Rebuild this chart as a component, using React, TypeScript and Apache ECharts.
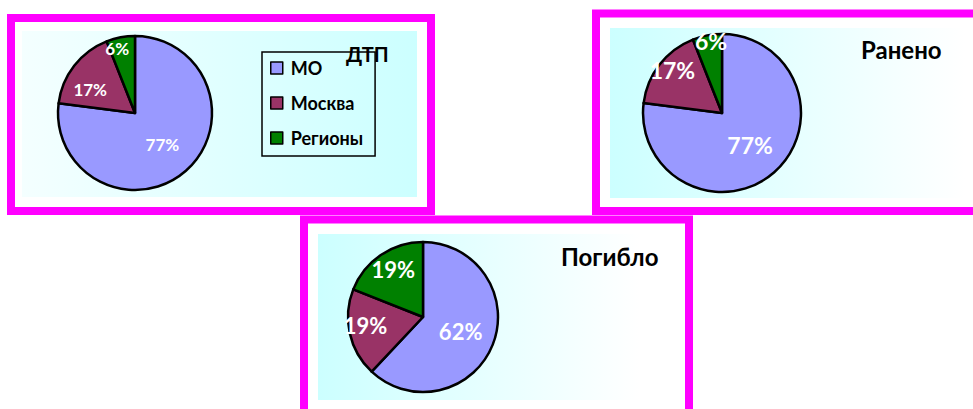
import React, { useEffect, useRef } from "react";
import * as echarts from "echarts";

const categories = ["МО", "Москва", "Регионы"];
const dtpValues = [77, 17, 6];
const injuredValues = [77, 17, 6];
const killedValues = [62, 19, 19];
const titles = ["ДТП", "Ранено", "Погибло"];
const sliceColors = ["#9999FF", "#993366", "#008000"];

const FONT = 'Lato, "Open Sans", "Noto Sans", sans-serif';
const MAGENTA = "#FF00FF";

// label nudges (Excel-style placement), per slice
const labelNudges = [
  [[0, 0], [-12, 2], [-10, -24]],
  [[0, 0], [-16, -17], [-3, -30]],
  [[0, 0], [-18, 0], [-7, -14]],
];

function makePie(
  name: string,
  values: number[],
  center: [number, number],
  radius: number,
  fontSize: number,
  nudges: number[][]
) {
  return {
    type: "pie",
    name,
    center,
    radius,
    startAngle: 90,
    clockwise: true,
    silent: true,
    data: values.map((v, i) => ({
      value: v,
      name: categories[i],
      itemStyle: { color: sliceColors[i] },
    })),
    itemStyle: { borderColor: "#000", borderWidth: 2.5 },
    label: {
      show: true,
      position: "inside",
      formatter: "{c}%",
      color: "#fff",
      fontWeight: "bold",
      fontSize,
      fontFamily: FONT,
    },
    labelLine: { show: false },
    labelLayout: (p: any) => ({
      dx: nudges[p.dataIndex][0],
      dy: nudges[p.dataIndex][1],
    }),
  };
}

export default function App() {
  const ref = useRef<HTMLDivElement>(null);

  useEffect(() => {
    if (!ref.current) return;
    const chart = echarts.init(ref.current, null, { renderer: "svg" });
    const option: any = {
      animation: false,
      backgroundColor: "#fff",
      graphic: [
        // panel backgrounds
        {
          type: "rect",
          z: -10,
          shape: { x: 22, y: 31, width: 395, height: 166 },
          style: {
            fill: {
              type: "linear", x: 0, y: 0, x2: 1, y2: 0,
              colorStops: [
                { offset: 0, color: "#F4FFFF" },
                { offset: 1, color: "#CCFFFF" },
              ],
            },
          },
        },
        {
          type: "rect",
          z: -10,
          shape: { x: 610, y: 28, width: 355, height: 170 },
          style: {
            fill: {
              type: "linear", x: 0, y: 0, x2: 1, y2: 0,
              colorStops: [
                { offset: 0, color: "#CCFFFF" },
                { offset: 1, color: "#FFFFFF" },
              ],
            },
          },
        },
        {
          type: "rect",
          z: -10,
          shape: { x: 318, y: 234, width: 322, height: 166 },
          style: {
            fill: {
              type: "linear", x: 0, y: 0, x2: 1, y2: 0,
              colorStops: [
                { offset: 0, color: "#CCFFFF" },
                { offset: 1, color: "#FFFFFF" },
              ],
            },
          },
        },
        // magenta frames
        {
          type: "rect",
          z: -5,
          shape: { x: 11, y: 18, width: 420, height: 193 },
          style: { fill: "none", stroke: MAGENTA, lineWidth: 8 },
        },
        {
          type: "rect",
          z: -5,
          shape: { x: 596, y: 13.5, width: 420, height: 197.5 },
          style: { fill: "none", stroke: MAGENTA, lineWidth: 8 },
        },
        {
          type: "rect",
          z: -5,
          shape: { x: 304, y: 219.5, width: 385, height: 300 },
          style: { fill: "none", stroke: MAGENTA, lineWidth: 8 },
        },
      ],
      title: [
        {
          text: titles[0],
          left: 346,
          top: 44,
          padding: 0,
          z: 10,
          textStyle: { fontFamily: FONT, fontWeight: "bold", fontSize: 20, color: "#000" },
        },
        {
          text: titles[1],
          left: 861,
          top: 37,
          padding: 0,
          textStyle: { fontFamily: FONT, fontWeight: "bold", fontSize: 24, color: "#000" },
        },
        {
          text: titles[2],
          left: 561,
          top: 244,
          padding: 0,
          textStyle: { fontFamily: FONT, fontWeight: "bold", fontSize: 24, color: "#000" },
        },
      ],
      legend: {
        orient: "vertical",
        left: 262,
        top: 52,
        data: categories,
        padding: [7, 12, 9, 8],
        itemWidth: 12,
        itemHeight: 12,
        itemGap: 17,
        borderColor: "#000",
        borderWidth: 1.5,
        borderRadius: 0,
        backgroundColor: "transparent",
        selectedMode: false,
        icon: "rect",
        itemStyle: { borderColor: "#000", borderWidth: 1.5 },
        textStyle: {
          fontFamily: FONT,
          fontWeight: "bold",
          fontSize: 18,
          color: "#000",
          lineHeight: 18,
          padding: [0, 0, 0, 3],
        },
      },
      series: [
        makePie("ДТП", dtpValues, [135, 113], 77, 17, labelNudges[0]),
        makePie("Ранено", injuredValues, [722, 113], 79, 23, labelNudges[1]),
        makePie("Погибло", killedValues, [423, 317], 75, 22, labelNudges[2]),
      ],
    };
    chart.setOption(option);
    return () => chart.dispose();
  }, []);

  return (
    <div
      ref={ref}
      style={{ position: "absolute", left: 0, top: 0, width: 973, height: 409 }}
    />
  );
}
